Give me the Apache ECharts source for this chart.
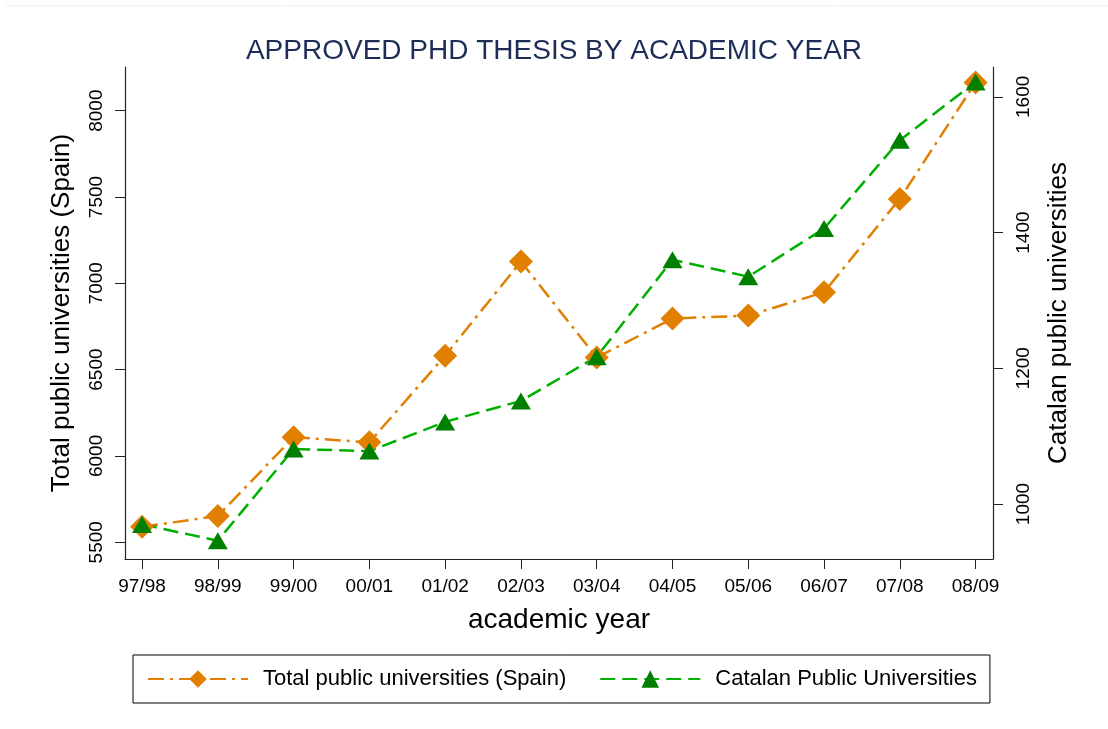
<!DOCTYPE html>
<html>
<head>
<meta charset="utf-8">
<style>
  html, body { margin: 0; padding: 0; background: #fff; }
  #chart { width: 1108px; height: 729px; }
</style>
<script src="https://cdn.jsdelivr.net/npm/echarts@6/dist/echarts.min.js"></script>
</head>
<body>
<div id="chart"></div>
<script>
// academic years on the x axis
const years = ['97/98', '98/99', '99/00', '00/01', '01/02', '02/03', '03/04', '04/05', '05/06', '06/07', '07/08', '08/09'];
// approved PhD theses
const spainTotal = [5590, 5652, 6108, 6079, 6581, 7126, 6570, 6796, 6813, 6948, 7489, 8163];
const catalanTotal = [970, 946, 1081, 1078, 1121, 1152, 1217, 1360, 1335, 1406, 1536, 1622];
// tick labels
const leftTicks = [5500, 6000, 6500, 7000, 7500, 8000];
const rightTicks = [1000, 1200, 1400, 1600];

const chart = echarts.init(document.getElementById('chart'));
const font = 'Liberation Sans, Arial, sans-serif';
const yearIdx = years.map((y, i) => i);

chart.setOption({
  animation: false,
  textStyle: { fontFamily: font },
  title: {
    text: 'APPROVED PHD THESIS BY ACADEMIC YEAR',
    left: 'center',
    top: 32,
    textStyle: { color: '#1e2d58', fontSize: 28, fontWeight: 'normal', fontFamily: font }
  },
  graphic: [{
    type: 'line',
    shape: { x1: 6, y1: 6, x2: 1108, y2: 6 },
    style: { stroke: '#e6eeee', lineWidth: 1 }
  }],
  grid: { left: 125, right: 115, top: 67, bottom: 170 },
  legend: {
    left: 133,
    top: 655,
    padding: [13, 13, 13, 14],
    itemGap: 33,
    itemWidth: 100,
    itemHeight: 22,
    borderColor: '#000',
    borderWidth: 1,
    textStyle: { fontSize: 22, color: '#000', fontFamily: font, padding: [0, 0, 0, 10] }
  },
  xAxis: {
    type: 'value',
    min: -0.225,
    max: 11.23,
    name: 'academic year',
    nameLocation: 'middle',
    nameGap: 47,
    nameTextStyle: { fontSize: 28, color: '#000', fontFamily: font },
    splitLine: { show: false },
    axisLine: { onZero: false, lineStyle: { color: '#222', width: 1.2 } },
    axisTick: { length: 10, customValues: yearIdx, lineStyle: { color: '#222' } },
    axisLabel: {
      customValues: yearIdx,
      formatter: v => years[Math.round(v)],
      fontSize: 19,
      color: '#000',
      margin: 18
    }
  },
  yAxis: [
    {
      type: 'value',
      position: 'left',
      min: 5403,
      max: 8253,
      name: 'Total public universities (Spain)',
      nameLocation: 'middle',
      nameGap: 50,
      nameTextStyle: { fontSize: 26, color: '#000', fontFamily: font },
      splitLine: { show: false },
      axisLine: { show: true, onZero: false, lineStyle: { color: '#222', width: 1.2 } },
      axisTick: { show: true, length: 10, customValues: leftTicks, lineStyle: { color: '#222' } },
      axisLabel: { customValues: leftTicks, formatter: v => String(v), rotate: 90, fontSize: 19, color: '#000', margin: 19 }
    },
    {
      type: 'value',
      position: 'right',
      min: 919,
      max: 1644,
      name: 'Catalan public universities',
      nameLocation: 'middle',
      nameGap: 53,
      nameRotate: 90,
      nameTextStyle: { fontSize: 26, color: '#000', fontFamily: font },
      splitLine: { show: false },
      axisLine: { show: true, onZero: false, lineStyle: { color: '#222', width: 1.2 } },
      axisTick: { show: true, length: 10, customValues: rightTicks, lineStyle: { color: '#222' } },
      axisLabel: { customValues: rightTicks, formatter: v => String(v), rotate: 90, fontSize: 19, color: '#000', margin: 21 }
    }
  ],
  series: [
    {
      name: 'Total public universities (Spain)',
      type: 'line',
      yAxisIndex: 0,
      data: spainTotal.map((v, i) => [i, v]),
      symbol: 'diamond',
      symbolSize: [24, 24],
      itemStyle: { color: '#e07f00' },
      lineStyle: { color: '#e07f00', width: 2.5, type: [16, 6, 3, 6] }
    },
    {
      name: 'Catalan Public Universities',
      type: 'line',
      yAxisIndex: 1,
      data: catalanTotal.map((v, i) => [i, v]),
      symbol: 'triangle',
      symbolSize: [20, 17],
      itemStyle: { color: '#007f00' },
      lineStyle: { color: '#00b000', width: 2.5, type: [15, 7] }
    }
  ]
});
</script>
</body>
</html>
